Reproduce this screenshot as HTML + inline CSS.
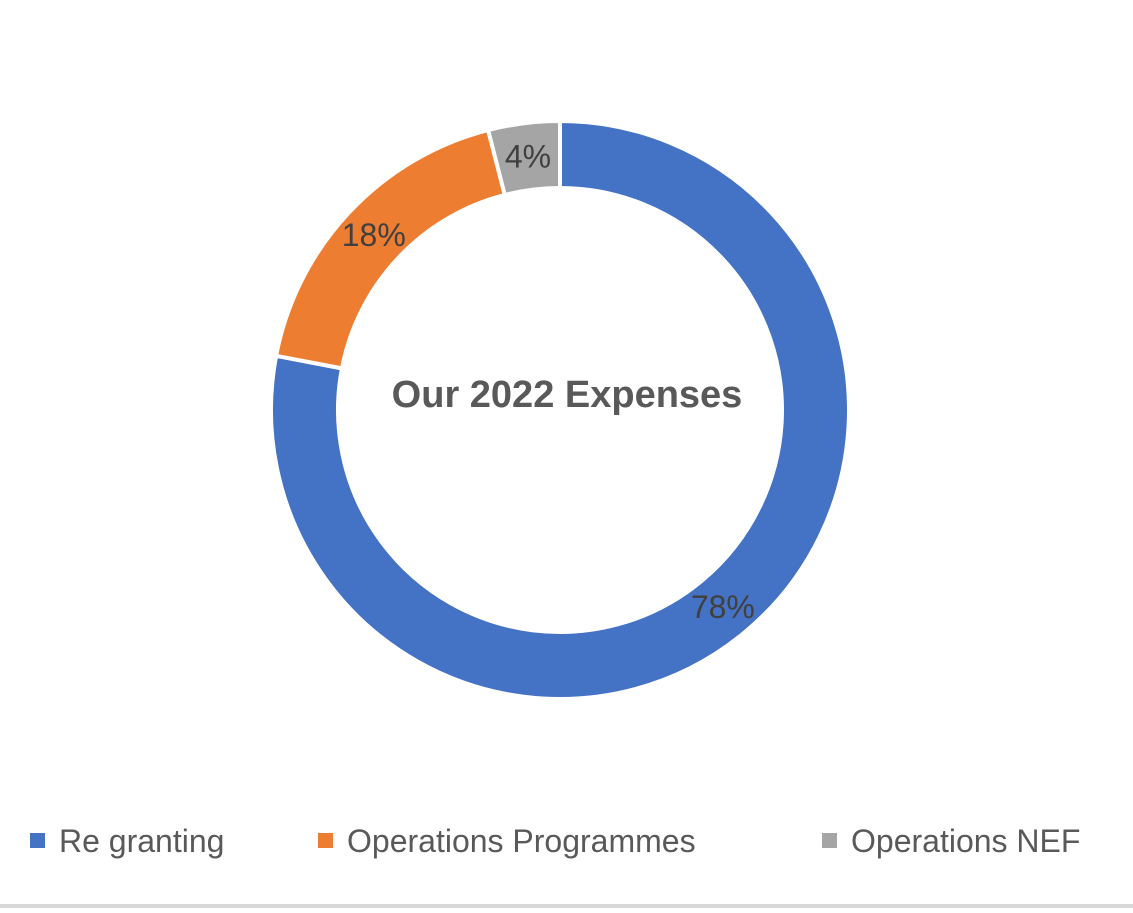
<!DOCTYPE html>
<html><head><meta charset="utf-8"><style>
body{margin:0;background:#fff;width:1133px;height:908px;overflow:hidden;font-family:"Liberation Sans",sans-serif}
</style></head><body>
<svg width="1133" height="908">
<g id="slices"></g>
<text x="567" y="407" text-anchor="middle" font-size="38" font-weight="bold" fill="#595959">Our 2022 Expenses</text>
<g id="labels"></g>
<g id="legend"></g>
<rect x="0" y="904" width="1133" height="4" fill="#d9d9d9"/>
</svg>
<script>
const categories=["Re granting","Operations Programmes","Operations NEF"];
const values=[78,18,4];
const labels=["78%","18%","4%"];
const colors=["#4472c4","#ed7d31","#a5a5a5"];
const cx=560,cy=410,R=289,r=222;
const ns="http://www.w3.org/2000/svg";
const total=values.reduce((a,b)=>a+b,0);
function pt(a,rad){return [cx+rad*Math.sin(a),cy-rad*Math.cos(a)];}
let a0=0;
const gS=document.getElementById('slices'),gL=document.getElementById('labels'),gG=document.getElementById('legend');
values.forEach((v,i)=>{
 const a1=a0+v/total*2*Math.PI;
 const [x1,y1]=pt(a0,R),[x2,y2]=pt(a1,R),[x3,y3]=pt(a1,r),[x4,y4]=pt(a0,r);
 const lg=(a1-a0)>Math.PI?1:0;
 const p=document.createElementNS(ns,'path');
 p.setAttribute('d',`M${x1},${y1}A${R},${R} 0 ${lg} 1 ${x2},${y2}L${x3},${y3}A${r},${r} 0 ${lg} 0 ${x4},${y4}Z`);
 p.setAttribute('fill',colors[i]);p.setAttribute('stroke','#fff');p.setAttribute('stroke-width','4');
 
 
 gS.appendChild(p);
 const am=(a0+a1)/2;
 let lr=(R+r)/2;
 const [lx,ly]=pt(am,lr);
 const t=document.createElementNS(ns,'text');
 t.setAttribute('x',lx);t.setAttribute('y',ly+11);t.setAttribute('text-anchor','middle');
 t.setAttribute('font-size','32');t.setAttribute('fill','#404040');t.textContent=labels[i];
 
 
 gL.appendChild(t);
 a0=a1;
});
const lx=[30,318,822];
categories.forEach((c,i)=>{
 const s=document.createElementNS(ns,'rect');
 s.setAttribute('x',lx[i]);s.setAttribute('y',833);s.setAttribute('width',15);s.setAttribute('height',15);s.setAttribute('fill',colors[i]);
 
 
 gG.appendChild(s);
 const t=document.createElementNS(ns,'text');
 t.setAttribute('x',lx[i]+29);t.setAttribute('y',852);t.setAttribute('font-size','32');t.setAttribute('fill','#595959');t.textContent=c;
 
 
 gG.appendChild(t);
});
</script>
</body></html>
